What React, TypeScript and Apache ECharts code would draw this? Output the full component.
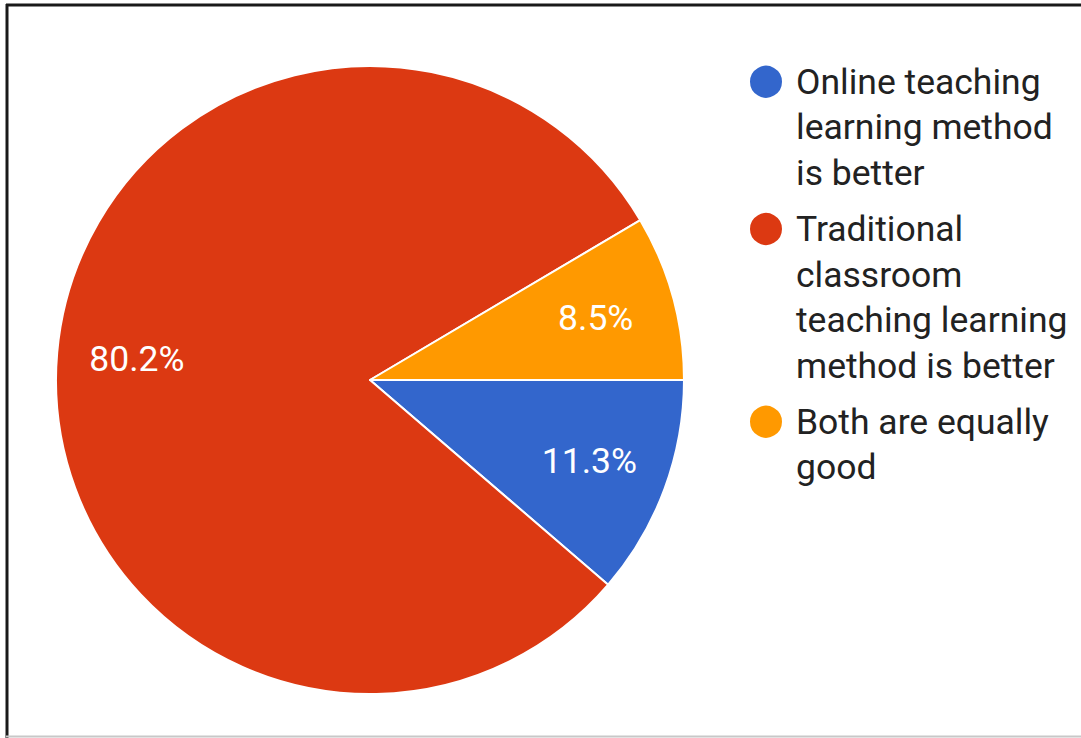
import React, { useEffect, useRef } from "react";
import * as echarts from "echarts";

const categories = [
  "Online teaching learning method is better",
  "Traditional classroom teaching learning method is better",
  "Both are equally good",
];
const legendLines = [
  ["Online teaching", "learning method", "is better"],
  ["Traditional", "classroom", "teaching learning", "method is better"],
  ["Both are equally", "good"],
];
const values = [11.3, 80.2, 8.5];
const colors = ["#3366cc", "#dc3912", "#ff9900"];

const LINE_H = 45.5;

export default function App() {
  const ref = useRef<HTMLDivElement>(null);
  useEffect(() => {
    if (!ref.current) return;
    const chart = echarts.init(ref.current, undefined, { renderer: "svg" });
    const center = [370, 380];
    const R = 314;
    chart.setOption({
      animation: false,
      backgroundColor: "#ffffff",
      textStyle: { fontFamily: "Roboto" },
      legend: {
        orient: "vertical",
        left: 748,
        top: 59,
        padding: 0,
        itemWidth: 34,
        itemHeight: 34,
        itemGap: 15.5,
        icon: "circle",
        selectedMode: false,
        formatter: (name: string) =>
          legendLines[categories.indexOf(name)].map((l) => `{t|${l}}`).join("\n"),
        textStyle: {
          fontFamily: "Roboto",
          fontSize: 35.5,
          lineHeight: LINE_H,
          color: "#222222",
          rich: {
            t: {
              fontFamily: "Roboto",
              fontSize: 35.5,
              lineHeight: LINE_H,
              color: "#222222",
            },
          },
        },
        data: categories.map((name, i) => {
          const h = (legendLines[i].length - 1) * LINE_H;
          return {
            name,
            textStyle: { padding: [0, 0, -h, 8] },
          };
        }),
      },
      graphic: [
        { type: "line", shape: { x1: 6, y1: 5, x2: 1081, y2: 5 }, style: { stroke: "#1a1a1a", lineWidth: 3 } },
        { type: "line", shape: { x1: 7, y1: 4, x2: 7, y2: 738 }, style: { stroke: "#1a1a1a", lineWidth: 3 } },
        { type: "line", shape: { x1: 6, y1: 736.5, x2: 1081, y2: 736.5 }, style: { stroke: "#c8c8c8", lineWidth: 2 } },
      ],
      series: [
        {
          type: "pie",
          center,
          radius: [0, R],
          startAngle: 0,
          clockwise: true,
          percentPrecision: 1,
          silent: true,
          label: { show: false },
          labelLine: { show: false },
          itemStyle: { borderColor: "#ffffff", borderWidth: 2 },
          emphasis: { disabled: true },
          data: categories.map((name, i) => ({
            name,
            value: values[i],
            itemStyle: { color: colors[i] },
          })),
        },
        {
          type: "pie",
          center,
          radius: [148, R],
          startAngle: 0,
          clockwise: true,
          percentPrecision: 1,
          silent: true,
          z: 3,
          emphasis: { disabled: true },
          itemStyle: { color: "transparent", borderWidth: 0 },
          labelLine: { show: false },
          label: {
            show: true,
            position: "inside",
            formatter: "{d}%",
            color: "#ffffff",
            fontFamily: "Roboto",
            fontSize: 35.5,
          },
          data: categories.map((name, i) => ({
            name,
            value: values[i],
            itemStyle: { color: "transparent" },
          })),
        },
      ],
    });
    return () => chart.dispose();
  }, []);
  return (
    <div
      ref={ref}
      style={{ position: "fixed", left: 0, top: 0, width: 1081, height: 738 }}
    />
  );
}
